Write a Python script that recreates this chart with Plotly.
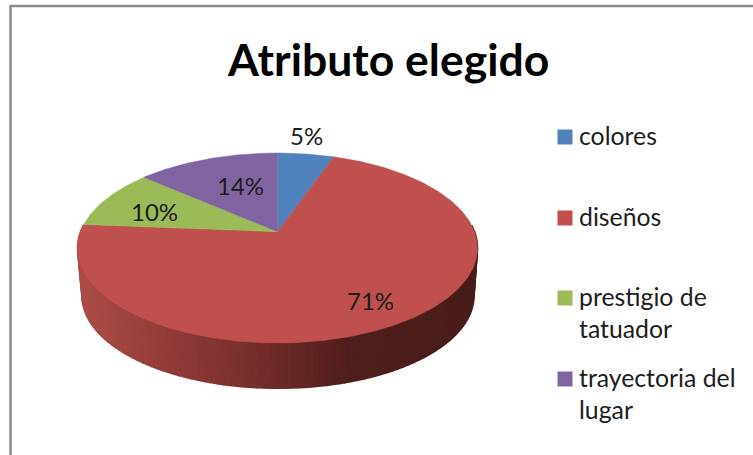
"""Atributo elegido: tilted 3D-look pie drawn with Plotly scatter fills."""

import numpy as np
import plotly.graph_objects as go

categories = ["colores", "diseños", "prestigio de<br>tatuador", "trayectoria del<br>lugar"]
values = [5.4, 70.85, 10.15, 13.6]
title_text = "Atributo elegido"

W, H = 753, 455
FONT = "Lato, Carlito, 'Open Sans', sans-serif"
INK = "#1c1c1c"
COLORS = ["#4F81BD", "#C0504D", "#9BBB59", "#8064A2"]

# Pie geometry, pixels
CX, CY = 277.5, 248.0
RX, RY = 200.0, 95.0
BOTTOM_CX, BOTTOM_CY, BOTTOM_RX, BOTTOM_RY = 278.0, 296.0, 196.0, 92.3
APEX_SHIFT = 0.172  # perspective: apex sits above the middle of the ellipse

# Shade of the red wall from left to right
WALL_STOPS = [
    (0.00, (172, 76, 71)),
    (0.12, (158, 67, 63)),
    (0.30, (137, 54, 52)),
    (0.48, (112, 43, 40)),
    (0.68, (78, 30, 28)),
    (1.00, (72, 28, 26)),
]

LABEL_POS = [(306.5, 135), (370, 300.5), (154, 211), (240, 185)]
LEGEND_SWATCH_X, LEGEND_TEXT_X = 565, 577
LEGEND_Y = [137, 218, 298, 379]


def top_point(theta):
    # theta runs clockwise from 12 o'clock on the true circle
    x, y = np.sin(theta), np.cos(theta)
    d = 1 + APEX_SHIFT * y
    return (
        CX + RX * x * np.sqrt(1 - APEX_SHIFT**2) / d,
        CY - RY * (y + APEX_SHIFT) / d,
    )


def wall_color(t):
    for (t0, c0), (t1, c1) in zip(WALL_STOPS, WALL_STOPS[1:]):
        if t <= t1:
            f = (t - t0) / (t1 - t0)
            rgb = [round(a + (b - a) * f) for a, b in zip(c0, c1)]
            return f"rgb({rgb[0]},{rgb[1]},{rgb[2]})"
    return "rgb(72,28,26)"


fig = go.Figure()

# wall: thin quads between the top rim and the bottom rim, only the front shows
edges = np.radians(np.linspace(-14, 194, 105))
for a0, a1 in zip(edges[:-1], edges[1:]):
    xs = [
        CX + RX * np.cos(a0), CX + RX * np.cos(a1),
        BOTTOM_CX + BOTTOM_RX * np.cos(a1), BOTTOM_CX + BOTTOM_RX * np.cos(a0),
    ]
    ys = [
        CY + RY * np.sin(a0), CY + RY * np.sin(a1),
        BOTTOM_CY + BOTTOM_RY * np.sin(a1), BOTTOM_CY + BOTTOM_RY * np.sin(a0),
    ]
    shade = wall_color((np.cos((a0 + a1) / 2) + 1) / 2)
    fig.add_trace(
        go.Scatter(
            x=xs, y=ys, mode="lines", fill="toself", fillcolor=shade,
            line={"color": shade, "width": 1.5}, showlegend=False, hoverinfo="skip",
        )
    )

# top surface, one wedge per category
total = sum(values)
start = 0.0
for name, val, color in zip(categories, values, COLORS):
    sweep = 2 * np.pi * val / total
    thetas = np.linspace(start, start + sweep, max(int(val * 4), 12))
    px, py = top_point(thetas)
    ax, ay = CX, CY - RY * APEX_SHIFT
    fig.add_trace(
        go.Scatter(
            x=[ax, *px, ax], y=[ay, *py, ay], mode="lines", fill="toself",
            fillcolor=color, line={"color": color, "width": 0.5}, showlegend=False,
            name=name.replace("<br>", " "),
            hovertemplate=f"{round(val)}%<extra>%{{fullData.name}}</extra>",
        )
    )
    start += sweep

# legend swatches
for color, y in zip(COLORS, LEGEND_Y):
    fig.add_trace(
        go.Scatter(
            x=[LEGEND_SWATCH_X], y=[y], mode="markers", showlegend=False, hoverinfo="skip",
            marker={"symbol": "square", "size": 15, "color": color, "line": {"width": 0}},
        )
    )

annotations = [
    {
        "x": 387.5, "y": 58, "text": f"<b>{title_text}</b>", "showarrow": False,
        "font": {"family": FONT, "size": 44.5, "color": "#000000"},
    }
]
for val, (x, y) in zip(values, LABEL_POS):
    annotations.append(
        {
            "x": x, "y": y, "text": f"{round(val)}%", "showarrow": False,
            "font": {"family": FONT, "size": 24, "color": INK},
        }
    )
for name, y in zip(categories, LEGEND_Y):
    annotations.append(
        {
            "x": LEGEND_TEXT_X, "y": y - 18, "text": name, "showarrow": False,
            "xanchor": "left", "yanchor": "top", "align": "left",
            "font": {"family": FONT, "size": 24.8, "color": INK},
        }
    )

fig.update_layout(
    width=W,
    height=H,
    margin={"l": 0, "r": 0, "t": 0, "b": 0},
    paper_bgcolor="white",
    plot_bgcolor="white",
    showlegend=False,
    xaxis={"range": [0, W], "visible": False, "fixedrange": True},
    yaxis={"range": [H, 0], "visible": False, "fixedrange": True},
    annotations=annotations,
    shapes=[
        {"type": "line", "x0": 10.5, "x1": 10.5, "y0": 6, "y1": H,
         "line": {"color": "#8c8c8c", "width": 2.5}},
        {"type": "line", "x0": 9.5, "x1": W, "y0": 6, "y1": 6,
         "line": {"color": "#8c8c8c", "width": 2.5}},
    ],
)

fig.write_html(
    "out.html",
    config={"displayModeBar": False},
    post_script="document.body.style.margin = '0';",
)
